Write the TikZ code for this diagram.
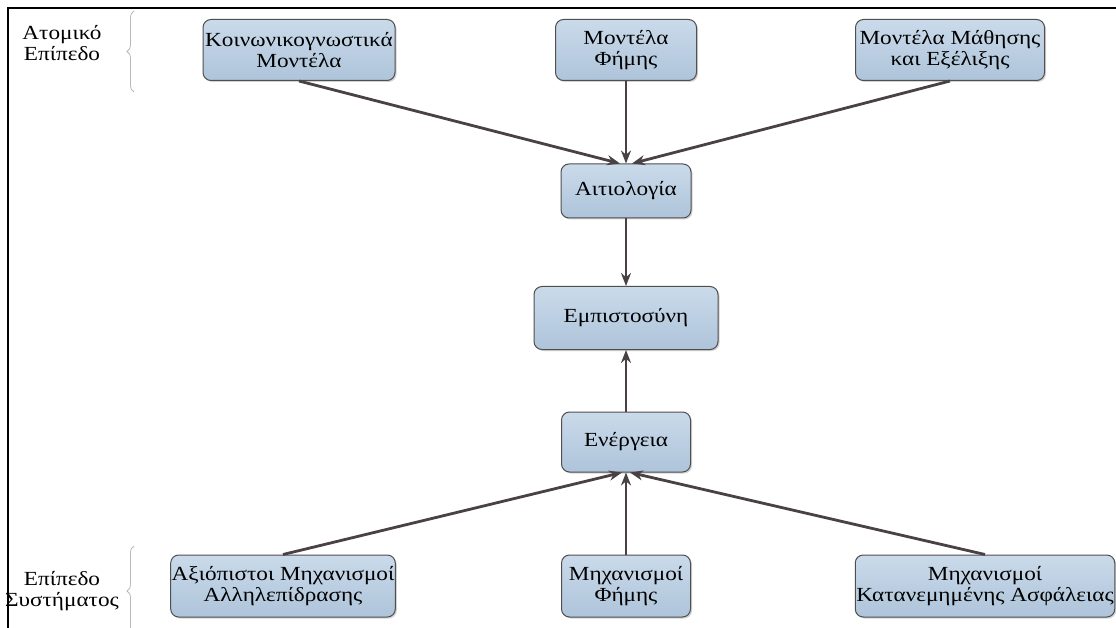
\documentclass[tikz,border=0pt]{standalone}
\usepackage{fontspec}
\setmainfont{Liberation Serif}[FakeStretch=1.16]
\usetikzlibrary{arrows.meta,shadows,decorations.pathreplacing}
\definecolor{boxtop}{HTML}{CADAEA}
\definecolor{boxbot}{HTML}{AEC4DA}
\definecolor{boxline}{HTML}{4F4F4F}
\definecolor{arrowc}{HTML}{4A4242}
\begin{document}
\begin{tikzpicture}[x=1pt,y=-1pt,
  box/.style={draw=boxline, line width=1pt, rounded corners=8pt,
    top color=boxtop, bottom color=boxbot, align=center,
    font=\fontsize{20}{21.5}\selectfont, inner xsep=1pt, inner ysep=2pt,
    drop shadow={shadow xshift=1.5pt, shadow yshift=-1.5pt, opacity=0.35}},
  conn/.style={draw=arrowc, line width=2.8pt, -{Stealth[length=13pt,width=10pt]}},
  lvl/.style={align=center, font=\fontsize{20}{21.5}\selectfont},
  br/.style={draw=gray!55, line width=0.8pt, decorate,
    decoration={brace, amplitude=7pt}}]
\useasboundingbox (0,0) rectangle (1116,628);
\fill[white] (0,0) rectangle (1116,628);
\draw[line width=2.8pt, black] (8,640) -- (8,8) -- (1120,8);

\node[box, minimum width=192pt, minimum height=61pt] (n1) at (299,50) {Κοινωνικογνωστικά\\Μοντέλα};
\node[box, minimum width=141pt, minimum height=61pt] (n2) at (626,50) {Μοντέλα\\Φήμης};
\node[box, minimum width=189pt, minimum height=61pt] (n3) at (950,50) {Μοντέλα Μάθησης\\και Εξέλιξης};
\node[box, minimum width=130pt, minimum height=54pt] (a) at (626,191) {Αιτιολογία};
\node[box, minimum width=184pt, minimum height=63pt] (e) at (626,318) {Εμπιστοσύνη};
\node[box, minimum width=129pt, minimum height=60pt] (en) at (626,442) {Ενέργεια};
\node[box, minimum width=224pt, minimum height=62pt] (b1) at (283,586) {Αξιόπιστοι Μηχανισμοί\\Αλληλεπίδρασης};
\node[box, minimum width=129pt, minimum height=62pt] (b2) at (626,586) {Μηχανισμοί\\Φήμης};
\node[box, minimum width=258pt, minimum height=62pt] (b3) at (985,586) {Μηχανισμοί\\Κατανεμημένης Ασφάλειας};

\draw[conn] (n1.south) -- ([xshift=-6pt]a.north);
\draw[conn] (n2.south) -- (a.north);
\draw[conn] (n3.south) -- ([xshift=6pt]a.north);
\draw[conn] (a.south) -- (e.north);
\draw[conn] (en.north) -- (e.south);
\draw[conn] (b1.north) -- ([xshift=-4pt]en.south);
\draw[conn] (b2.north) -- (en.south);
\draw[conn] (b3.north) -- ([xshift=4pt]en.south);

\node[lvl] (l1) at (62,43) {Ατομικό\\Επίπεδο};
\node[lvl] (l2) at (62,591) {Επίπεδο\\Συστήματος};
\coordinate (t1) at (134,92);
\coordinate (t2) at (134,11);
\coordinate (u1) at (134,636);
\coordinate (u2) at (134,546);
\draw[br] (t1) -- (t2);
\draw[br] (u1) -- (u2);
\end{tikzpicture}
\end{document}
